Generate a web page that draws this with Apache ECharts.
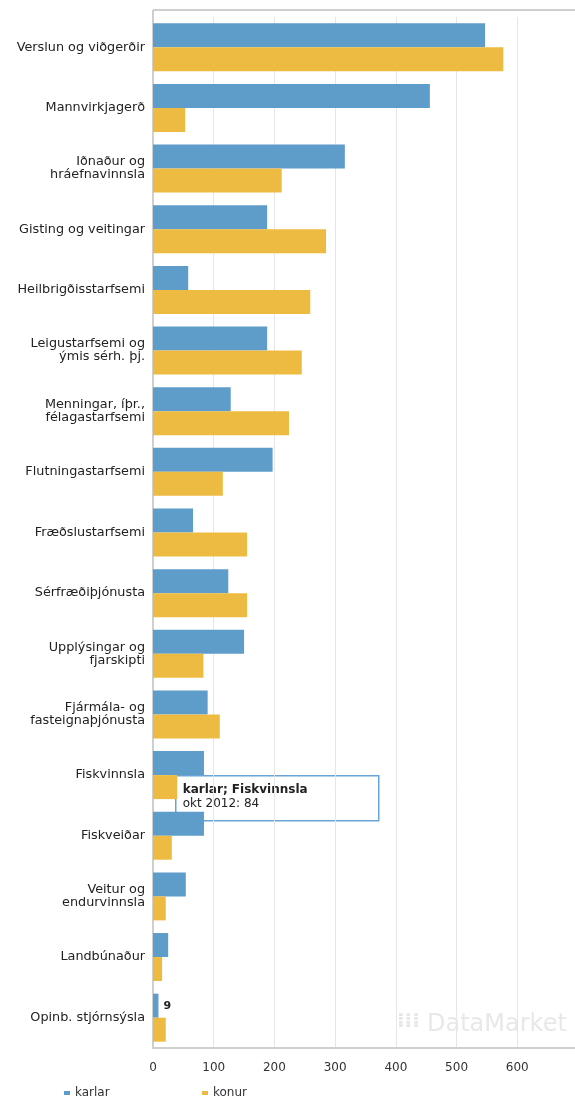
<!DOCTYPE html>
<html>
<head>
<meta charset="utf-8">
<script src="https://cdn.jsdelivr.net/npm/echarts@6/dist/echarts.min.js"></script>
<style>
html,body{margin:0;padding:0;background:#fff;}
#c{width:575px;height:1099px;}
</style>
</head>
<body>
<div id="c"></div>
<script>
var categories = [
  "Verslun og viðgerðir",
  "Mannvirkjagerð",
  "Iðnaður og\nhráefnavinnsla",
  "Gisting og veitingar",
  "Heilbrigðisstarfsemi",
  "Leigustarfsemi og\nýmis sérh. þj.",
  "Menningar, íþr.,\nfélagastarfsemi",
  "Flutningastarfsemi",
  "Fræðslustarfsemi",
  "Sérfræðiþjónusta",
  "Upplýsingar og\nfjarskipti",
  "Fjármála- og\nfasteignaþjónusta",
  "Fiskvinnsla",
  "Fiskveiðar",
  "Veitur og\nendurvinnsla",
  "Landbúnaður",
  "Opinb. stjórnsýsla"
];
var karlar = [547, 456, 316, 188, 58, 188, 128, 197, 66, 124, 150, 90, 84, 84, 54, 25, 9];
var konur  = [577, 53, 212, 285, 259, 245, 224, 115, 155, 155, 83, 110, 40, 31, 21, 15, 21];
var xTicks = [0, 100, 200, 300, 400, 500, 600, 700];
var seriesNames = ["karlar", "konur"];

var chart = echarts.init(document.getElementById('c'), null, {renderer: 'canvas'});
var font = '"DejaVu Sans", Verdana, sans-serif';

var karlarData = karlar.map(function (v, i) {
  var d = {value: v};
  if (i === karlar.length - 1) {
    d.label = {show: true, position: 'right', distance: 5, color: '#222', fontSize: 11, fontWeight: 'bold', fontFamily: font};
  }
  return d;
});

var splitColors = xTicks.map(function (t, i) {
  return i === xTicks.length - 1 ? 'rgba(0,0,0,0)' : '#e6e6e6';
});

chart.setOption({
  animation: false,
  backgroundColor: '#fff',
  grid: {left: 153, top: 17, height: 1031, width: 425, containLabel: false, outerBoundsMode: 'none'},
  xAxis: {
    type: 'value',
    min: xTicks[0],
    max: xTicks[xTicks.length - 1],
    interval: 100,
    axisLine: {show: true, lineStyle: {color: '#cfcfcf', width: 2}},
    axisTick: {show: false},
    splitLine: {show: true, lineStyle: {color: splitColors, width: 1}},
    axisLabel: {color: '#333', fontSize: 12, fontFamily: font, margin: 14,
      formatter: function (v) { return v === 700 ? '' : String(v); }}
  },
  yAxis: {
    type: 'category',
    inverse: true,
    data: categories,
    axisLine: {show: true, lineStyle: {color: '#cfcfcf', width: 2}},
    axisTick: {show: false},
    splitLine: {show: false},
    axisLabel: {color: '#222', fontSize: 12.8, fontFamily: font, margin: 8, lineHeight: 13, align: 'right'}
  },
  legend: [
    {data: [seriesNames[0]], left: 59, top: 1082, icon: 'rect', itemWidth: 6, itemHeight: 4, itemGap: 4,
      textStyle: {color: '#333', fontSize: 12, fontFamily: font}},
    {data: [seriesNames[1]], left: 197, top: 1082, icon: 'rect', itemWidth: 6, itemHeight: 4, itemGap: 4,
      textStyle: {color: '#333', fontSize: 12, fontFamily: font}}
  ],
  series: [
    {name: seriesNames[0], type: 'bar', data: karlarData, barWidth: 24, barGap: '0%',
      itemStyle: {color: '#5e9cca'}},
    {name: seriesNames[1], type: 'bar', data: konur, barWidth: 24, barGap: '0%',
      itemStyle: {color: '#eebb42'}}
  ],
  graphic: [
    {type: 'line', shape: {x1: 153, y1: 10, x2: 575, y2: 10}, style: {stroke: '#cfcfcf', lineWidth: 2}, z: 1},
    {type: 'line', shape: {x1: 153, y1: 10, x2: 153, y2: 17}, style: {stroke: '#cfcfcf', lineWidth: 2}, z: 1},
    {type: 'text', left: 427, top: 1013, z: 0,
      style: {text: 'DataMarket', fill: '#e8e8e8', font: '24px "DejaVu Sans", sans-serif'}},
    {type: 'text', left: 397, top: 1012, z: 0,
      style: {text: '⁞⁞⁞', fill: '#e6e6e6', font: 'bold 20px "DejaVu Sans", sans-serif'}},
    {type: 'group', left: 175, top: 775, z: 100, children: [
      {type: 'rect', shape: {x: 0, y: 0, width: 203, height: 45},
        style: {fill: '#fff', stroke: '#6aa3d6', lineWidth: 1.5}},
      {type: 'text', x: 7, y: 8,
        style: {text: 'karlar; Fiskvinnsla', fill: '#222', font: 'bold 12px "DejaVu Sans", Verdana, sans-serif'}},
      {type: 'text', x: 7, y: 22,
        style: {text: 'okt 2012: ' + karlar[12], fill: '#222', font: '12px "DejaVu Sans", Verdana, sans-serif'}}
    ]}
  ]
});
</script>
</body>
</html>
